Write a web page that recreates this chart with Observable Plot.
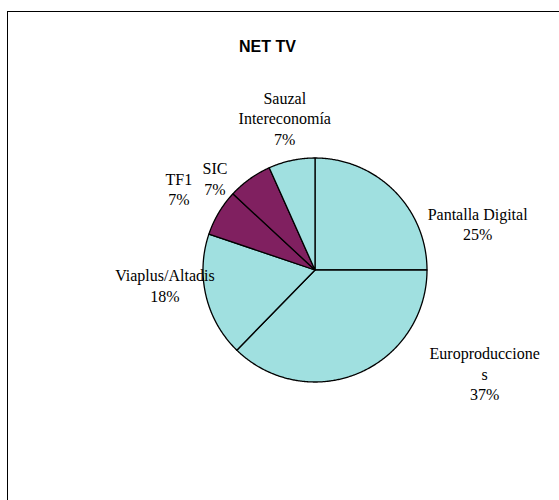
<!DOCTYPE html>
<html>
<head>
<meta charset="utf-8">
<script src="https://cdn.jsdelivr.net/npm/d3@7"></script>
<script src="https://cdn.jsdelivr.net/npm/@observablehq/plot@0.6"></script>
<style>
  html, body { margin: 0; padding: 0; background: #fff; overflow: hidden; width: 559px; height: 500px; }
  #frame { position: absolute; left: 7px; top: 11px; width: 700px; height: 700px; border: 1px solid #000; box-sizing: border-box; }
  #title { position: absolute; left: 0; width: 535px; top: 38px; text-align: center;
           font-family: "Liberation Sans", Arial, sans-serif; font-weight: bold; font-size: 16px; color: #000; }
  #chart { position: absolute; left: 0; top: 0; }
</style>
</head>
<body>
<div id="frame"></div>
<div id="title">NET TV</div>
<div id="chart"></div>
<script>
// Data (clockwise from 12 o'clock)
const categories = ["Pantalla Digital", "Europroducciones", "Viaplus/Altadis", "TF1", "SIC", "Sauzal Intereconomía"];
const shares = [25.0, 37.3, 17.9, 6.7, 6.4, 6.7];
const percentLabels = ["25%", "37%", "18%", "7%", "7%", "7%"];
const labelTexts = ["Pantalla Digital", "Europroduccione\ns", "Viaplus/Altadis", "TF1", "SIC", "Sauzal\nIntereconomía"];
const groups = ["A", "A", "A", "B", "B", "A"];

// Layout (pie-radius units, relative to pie centre)
const labelPos = [[1.452, 0.415], [1.515, -0.920], [-1.34, -0.134], [-1.215, 0.727], [-0.893, 0.821], [-0.27, 1.36]];

const pie = d3.pie().sort(null).value(d => d.value)(categories.map((name, i) => ({name, value: shares[i], group: groups[i]})));

// Build slice outlines (centre + arc) from pie angles
const slicePts = [];
pie.forEach(p => {
  const n = Math.max(2, Math.ceil((p.endAngle - p.startAngle) / (Math.PI / 360)));
  slicePts.push({name: p.data.name, group: p.data.group, x: 0, y: 0});
  for (let k = 0; k <= n; k++) {
    const a = p.startAngle + (p.endAngle - p.startAngle) * k / n;
    slicePts.push({name: p.data.name, group: p.data.group, x: Math.sin(a), y: Math.cos(a)});
  }
});

const labels = categories.map((c, i) => ({text: labelTexts[i] + "\n" + percentLabels[i], x: labelPos[i][0], y: labelPos[i][1]}));

const cx = 314.5, cy = 269.5, r = 112;

const chart = Plot.plot({
  width: 559,
  height: 500,
  margin: 0,
  style: {background: "transparent", overflow: "visible"},
  x: {domain: [-1, 1], range: [cx - r, cx + r], axis: null},
  y: {domain: [-1, 1], range: [cy + r, cy - r], axis: null},
  color: {domain: ["A", "B"], range: ["#a0e0e0", "#802060"]},
  marks: [
    Plot.line(slicePts, {x: "x", y: "y", z: "name", fill: "group", stroke: "#000", strokeWidth: 1.3, curve: "linear-closed"}),
    Plot.text(labels, {x: "x", y: "y", text: "text", fontFamily: "Liberation Serif, Times New Roman, serif", fontSize: 16, lineHeight: 1.29, fill: "#000"})
  ]
});
document.getElementById("chart").appendChild(chart);
</script>
</body>
</html>
